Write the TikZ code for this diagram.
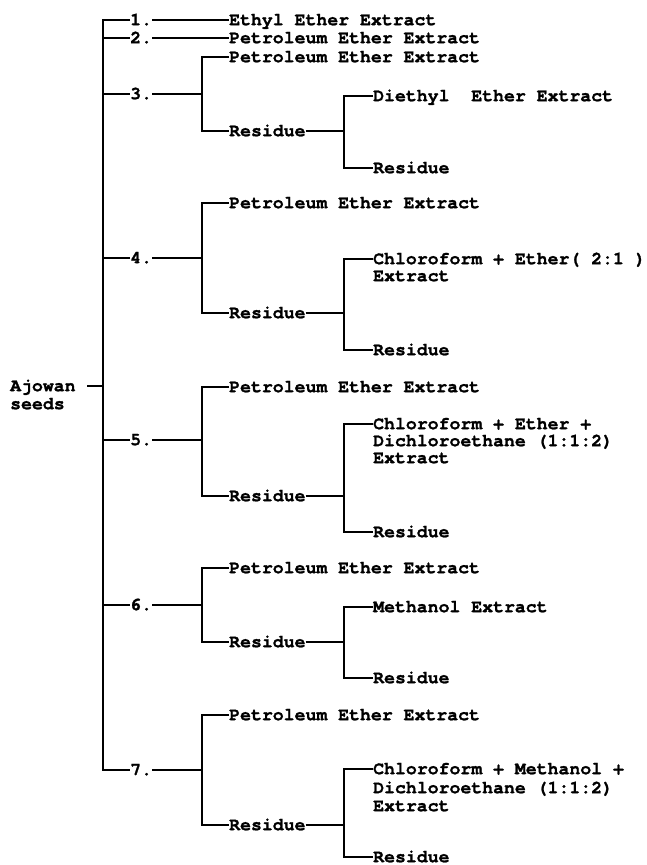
\documentclass[tikz,border=0pt]{standalone}
\usepackage{fontspec}
\setmainfont{TeX Gyre Cursor}[BoldFeatures={FakeBold=1.2}]
\begin{document}
\begin{tikzpicture}[x=1pt,y=-1pt,
  lbl/.style={anchor=west,inner xsep=0pt,inner ysep=0pt,text height=10.4pt,text depth=0pt,
    font=\fontsize{18.17}{18}\selectfont\bfseries},
  conn/.style={line width=1.5pt,line join=miter}]
\useasboundingbox (0,0) rectangle (646,865);
\coordinate (m) at (103,0);
\coordinate (v1) at (202,0);
\coordinate (v2) at (344,0);
% root
\node[lbl] (aj) at (10,386) {Ajowan};
\node[lbl] (seeds) at (10,404) {seeds};
% numbers
\node[lbl] (n1) at (130,20) {1.};
\node[lbl] (n2) at (130,38) {2.};
\node[lbl] (n3) at (130,94) {3.};
\node[lbl] (n4) at (130,258) {4.};
\node[lbl] (n5) at (130,440) {5.};
\node[lbl] (n6) at (130,605) {6.};
\node[lbl] (n7) at (130,770) {7.};
% level 1
\node[lbl] (e1) at (229,20) {Ethyl Ether Extract};
\node[lbl] (e2) at (229,38) {Petroleum Ether Extract};
\node[lbl] (pe3) at (229,57) {Petroleum Ether Extract};
\node[lbl] (r3) at (229,131) {Residue};
\node[lbl] (pe4) at (229,203) {Petroleum Ether Extract};
\node[lbl] (r4) at (229,313) {Residue};
\node[lbl] (pe5) at (229,387) {Petroleum Ether Extract};
\node[lbl] (r5) at (229,496) {Residue};
\node[lbl] (pe6) at (229,568) {Petroleum Ether Extract};
\node[lbl] (r6) at (229,642) {Residue};
\node[lbl] (pe7) at (229,715) {Petroleum Ether Extract};
\node[lbl] (r7) at (229,825) {Residue};
% level 2
\node[lbl] (d3) at (373,96) {Diethyl\ \ Ether Extract};
\node[lbl] (rr3) at (373,168) {Residue};
\node[lbl] (c4) at (373,259) {Chloroform + Ether( 2:1 )};
\node[lbl] (c4b) at (373,276) {Extract};
\node[lbl] (rr4) at (373,350) {Residue};
\node[lbl] (c5) at (373,424) {Chloroform + Ether +};
\node[lbl] (c5b) at (373,441) {Dichloroethane (1:1:2)};
\node[lbl] (c5c) at (373,458) {Extract};
\node[lbl] (rr5) at (373,532) {Residue};
\node[lbl] (c6) at (373,607) {Methanol Extract};
\node[lbl] (rr6) at (373,678) {Residue};
\node[lbl] (c7) at (373,769) {Chloroform + Methanol +};
\node[lbl] (c7b) at (373,788) {Dichloroethane (1:1:2)};
\node[lbl] (c7c) at (373,806) {Extract};
\node[lbl] (rr7) at (373,857) {Residue};
% main trunk
\draw[conn] (n1.west) -- (n1 -| m) -- (n7 -| m) -- (n7.west);
\foreach \k in {2,3,4,5,6} {\draw[conn] (n\k -| m) -- (n\k.west);}
\draw[conn] ([xshift=11.6pt]aj.east) -- (aj -| m);
% single branches
\draw[conn] (n1.east) -- (e1.west);
\draw[conn] (n2.east) -- (e2.west);
% level-1 forks
\foreach \k in {3,4,5,6,7} {
  \draw[conn] (pe\k.west) -- (pe\k -| v1) -- (r\k -| v1) -- (r\k.west);
  \draw[conn] (n\k.east) -- (n\k -| v1);
  \draw[conn] (r\k.east) -- (r\k -| v2);
}
% level-2 forks
\draw[conn] (d3.west) -- (d3 -| v2) -- (rr3 -| v2) -- (rr3.west);
\draw[conn] (c4.west) -- (c4 -| v2) -- (rr4 -| v2) -- (rr4.west);
\draw[conn] (c5.west) -- (c5 -| v2) -- (rr5 -| v2) -- (rr5.west);
\draw[conn] (c6.west) -- (c6 -| v2) -- (rr6 -| v2) -- (rr6.west);
\draw[conn] (c7.west) -- (c7 -| v2) -- (rr7 -| v2) -- (rr7.west);
\end{tikzpicture}
\end{document}
